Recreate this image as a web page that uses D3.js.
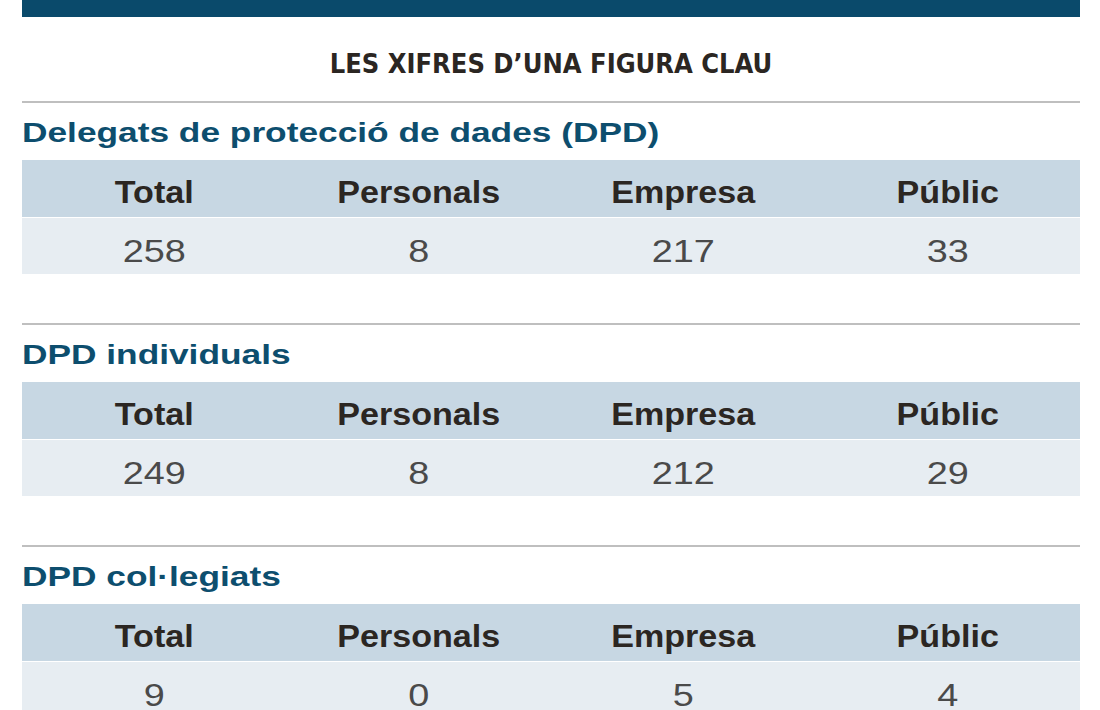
<!DOCTYPE html><html><head><meta charset="utf-8">
<script src="https://cdn.jsdelivr.net/npm/d3@7"></script>
<style>body{margin:0;background:#fff}</style></head><body>
<svg id="c" width="1100" height="710"></svg>
<script>
const title = "LES XIFRES D\u2019UNA FIGURA CLAU";
const columns = ["Total","Personals","Empresa","Públic"];
const sectionNames = ["Delegats de protecció de dades (DPD)","DPD individuals","DPD col·legiats"];
const totalValues = [258,249,9];
const personalValues = [8,8,0];
const empresaValues = [217,212,5];
const publicValues = [33,29,4];

const svg = d3.select("#c");
const L = 22, R = 1080;
const x = d3.scaleBand().domain(columns).range([L,R]);
const sectionY = d3.scaleLinear().domain([0,1]).range([102,324]);

function widen(sel, f){
  sel.each(function(){ const w=this.getComputedTextLength(); d3.select(this).attr("textLength",w*f).attr("lengthAdjust","spacingAndGlyphs"); });
}

svg.append("rect").attr("x",L).attr("y",0).attr("width",R-L).attr("height",17).attr("fill","#0a4a6b");
svg.append("text").attr("x",(L+R)/2).attr("y",73).attr("text-anchor","middle")
  .attr("font-family","DejaVu Sans Condensed, DejaVu Sans").attr("font-weight","bold")
  .attr("font-size",27).attr("fill","#2b2622").text(title);

sectionNames.forEach((name,i)=>{
  const y0 = sectionY(i);
  const vals = [totalValues[i],personalValues[i],empresaValues[i],publicValues[i]];
  const g = svg.append("g").attr("transform",`translate(0,${y0})`);
  g.append("line").attr("x1",L).attr("x2",R).attr("y1",0).attr("y2",0).attr("stroke","#bfbfbf").attr("stroke-width",2);
  g.append("text").attr("x",L).attr("y",40).attr("font-family","Liberation Sans, Arial").attr("font-weight","bold")
    .attr("font-size",28).attr("fill","#0d4e6e").text(name).call(widen,1.26);
  g.append("rect").attr("x",L).attr("y",58).attr("width",R-L).attr("height",57).attr("fill","#c7d7e3");
  g.append("rect").attr("x",L).attr("y",116).attr("width",R-L).attr("height",56).attr("fill","#e7edf2");
  columns.forEach((c,j)=>{
    const cx = x(c)+x.bandwidth()/2;
    g.append("text").attr("x",cx).attr("y",101).attr("text-anchor","middle").attr("font-family","Liberation Sans, Arial")
      .attr("font-weight","bold").attr("font-size",31).attr("fill","#2b2622").text(c).call(widen,1.1);
    g.append("text").attr("x",cx).attr("y",160).attr("text-anchor","middle").attr("font-family","Liberation Sans, Arial")
      .attr("font-size",31).attr("fill","#4a4a4a").text(vals[j]).call(widen,1.22);
  });
});
</script></body></html>
